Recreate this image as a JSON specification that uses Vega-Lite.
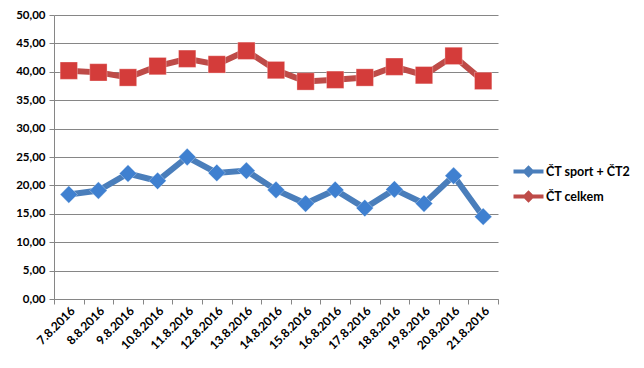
{
  "$schema": "https://vega.github.io/schema/vega-lite/v6.json",
  "width": 444,
  "height": 284,
  "autosize": {"type": "none"},
  "padding": {"left": 54, "top": 15, "right": 146, "bottom": 69},
  "background": "white",
  "config": {
    "view": {"stroke": null},
    "font": "Lato"
  },
  "data": {
    "values": [
      {"date": "7.8.2016", "series": "ČT sport + ČT2", "value": 18.4},
      {"date": "8.8.2016", "series": "ČT sport + ČT2", "value": 19.1},
      {"date": "9.8.2016", "series": "ČT sport + ČT2", "value": 22.1},
      {"date": "10.8.2016", "series": "ČT sport + ČT2", "value": 20.8},
      {"date": "11.8.2016", "series": "ČT sport + ČT2", "value": 25.0},
      {"date": "12.8.2016", "series": "ČT sport + ČT2", "value": 22.2},
      {"date": "13.8.2016", "series": "ČT sport + ČT2", "value": 22.6},
      {"date": "14.8.2016", "series": "ČT sport + ČT2", "value": 19.2},
      {"date": "15.8.2016", "series": "ČT sport + ČT2", "value": 16.8},
      {"date": "16.8.2016", "series": "ČT sport + ČT2", "value": 19.2},
      {"date": "17.8.2016", "series": "ČT sport + ČT2", "value": 16.0},
      {"date": "18.8.2016", "series": "ČT sport + ČT2", "value": 19.3},
      {"date": "19.8.2016", "series": "ČT sport + ČT2", "value": 16.8},
      {"date": "20.8.2016", "series": "ČT sport + ČT2", "value": 21.7},
      {"date": "21.8.2016", "series": "ČT sport + ČT2", "value": 14.5},
      {"date": "7.8.2016", "series": "ČT celkem", "value": 40.2},
      {"date": "8.8.2016", "series": "ČT celkem", "value": 39.9},
      {"date": "9.8.2016", "series": "ČT celkem", "value": 39.0},
      {"date": "10.8.2016", "series": "ČT celkem", "value": 41.0},
      {"date": "11.8.2016", "series": "ČT celkem", "value": 42.3},
      {"date": "12.8.2016", "series": "ČT celkem", "value": 41.3},
      {"date": "13.8.2016", "series": "ČT celkem", "value": 43.7},
      {"date": "14.8.2016", "series": "ČT celkem", "value": 40.3},
      {"date": "15.8.2016", "series": "ČT celkem", "value": 38.3},
      {"date": "16.8.2016", "series": "ČT celkem", "value": 38.6},
      {"date": "17.8.2016", "series": "ČT celkem", "value": 39.0},
      {"date": "18.8.2016", "series": "ČT celkem", "value": 40.9},
      {"date": "19.8.2016", "series": "ČT celkem", "value": 39.4},
      {"date": "20.8.2016", "series": "ČT celkem", "value": 42.8},
      {"date": "21.8.2016", "series": "ČT celkem", "value": 38.4}
    ]
  },
  "encoding": {
    "x": {
      "field": "date",
      "type": "ordinal",
      "sort": null,
      "scale": {"paddingInner": 0, "paddingOuter": 0},
      "axis": {
        "title": null,
        "tickBand": "extent",
        "labelAngle": -45,
        "labelAlign": "right",
        "labelBaseline": "top",
        "labelFontWeight": "bold",
        "labelFontSize": 12,
        "labelColor": "#000000",
        "labelPadding": 1,
        "domainColor": "#868686",
        "tickColor": "#868686",
        "tickSize": 5,
        "grid": false
      }
    },
    "y": {
      "field": "value",
      "type": "quantitative",
      "scale": {"domain": [0, 50], "nice": false},
      "axis": {
        "title": null,
        "values": [0, 5, 10, 15, 20, 25, 30, 35, 40, 45, 50],
        "labelExpr": "replace(format(datum.value, '.2f'), '.', ',')",
        "labelFontWeight": "bold",
        "labelFontSize": 11.5,
        "labelColor": "#000000",
        "labelPadding": 4,
        "domainColor": "#868686",
        "tickColor": "#868686",
        "tickSize": 5,
        "gridColor": "#868686",
        "gridOpacity": 1
      }
    },
    "color": {
      "field": "series",
      "type": "nominal",
      "scale": {"domain": ["ČT sport + ČT2", "ČT celkem"], "range": ["#4a7ebb", "#be4b48"]},
      "legend": {
        "title": null,
        "orient": "none",
        "legendX": 462,
        "legendY": 144,
        "symbolType": "M-1.2,-0.16H1.2V0.16H-1.2Z M0,-0.5L0.5,0L0,0.5L-0.5,0Z",
        "symbolSize": 625,
        "symbolStrokeWidth": 0,
        "labelFontSize": 12.5,
        "labelFontWeight": "bold",
        "labelColor": "#000000",
        "labelOffset": 5,
        "rowPadding": 6
      }
    }
  },
  "layer": [
    {
      "mark": {"type": "line", "strokeWidth": 6}
    },
    {
      "transform": [{"filter": "datum.series === 'ČT sport + ČT2'"}],
      "mark": {"type": "point", "filled": true, "opacity": 1, "shape": "diamond", "size": 300, "fill": "#3f80d0", "stroke": "#ffffff", "strokeOpacity": 0.3, "strokeWidth": 1}
    },
    {
      "transform": [{"filter": "datum.series === 'ČT celkem'"}],
      "mark": {"type": "point", "filled": true, "opacity": 1, "shape": "square", "size": 300, "fill": "#d43c3a", "stroke": "#ffffff", "strokeOpacity": 0.3, "strokeWidth": 1}
    }
  ]
}
